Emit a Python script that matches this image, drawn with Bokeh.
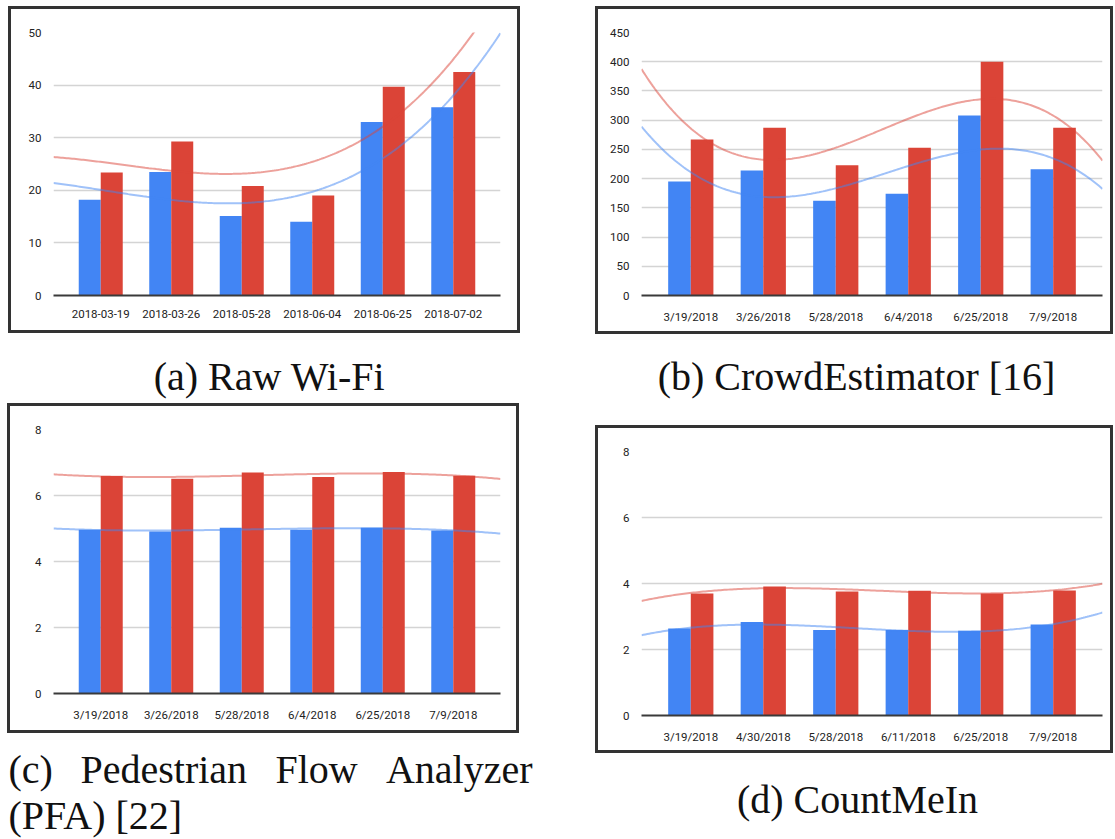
import numpy as np
from bokeh.plotting import figure
from bokeh.models import FactorRange, Range1d, FixedTicker, Spacer, ColumnDataSource
from bokeh.layouts import row, column
from bokeh.transform import dodge
from bokeh.core.properties import value
from bokeh.embed import file_html
from bokeh.resources import INLINE

# ---- data -------------------------------------------------------------
wifi_dates = ["2018-03-19", "2018-03-26", "2018-05-28", "2018-06-04", "2018-06-25", "2018-07-02"]
wifi_blue = [18.2, 23.5, 15.1, 14.0, 33.0, 35.8]
wifi_red = [23.4, 29.3, 20.8, 19.0, 39.7, 42.5]
wifi_ticks = [0, 10, 20, 30, 40, 50]

ce_dates = ["3/19/2018", "3/26/2018", "5/28/2018", "6/4/2018", "6/25/2018", "7/9/2018"]
ce_blue = [195, 214, 162, 174, 308, 216]
ce_red = [267, 287, 223, 253, 400, 287]
ce_ticks = [0, 50, 100, 150, 200, 250, 300, 350, 400, 450]

pfa_dates = ["3/19/2018", "3/26/2018", "5/28/2018", "6/4/2018", "6/25/2018", "7/9/2018"]
pfa_blue = [4.96, 4.91, 5.02, 4.96, 5.02, 4.94]
pfa_red = [6.59, 6.51, 6.70, 6.56, 6.71, 6.60]
pfa_ticks = [0, 2, 4, 6, 8]

cmi_dates = ["3/19/2018", "4/30/2018", "5/28/2018", "6/11/2018", "6/25/2018", "7/9/2018"]
cmi_blue = [2.64, 2.83, 2.59, 2.59, 2.57, 2.76]
cmi_red = [3.70, 3.91, 3.76, 3.78, 3.70, 3.79]
cmi_ticks = [0, 2, 4, 6, 8]

# ---- styling ----------------------------------------------------------
BLUE = "#4285F4"
RED = "#DB4437"
BW = 3            # panel border thickness
LABEL_FONT = "Roboto"
CAPTION_FONT = "Liberation Serif"
CAPTION_SHIFT = 14  # the text glyph sits this far below its nominal baseline


def panel(dates, blue, red, ticks, outer_w, outer_h, borders, pad):
    """Grouped bars with a cubic trend line per series, framed by a dark border."""
    left, right, top, bottom = borders
    xr = FactorRange(factors=dates, range_padding=pad, range_padding_units="absolute")
    # the canvas is offset by the border on the left/top, so the far sides get
    # two border widths of extra room
    p = figure(x_range=xr, y_range=Range1d(ticks[0], ticks[-1]),
               width=outer_w, height=outer_h, title=None,
               output_backend="svg", toolbar_location=None,
               min_border_left=left, min_border_right=right + 2 * BW,
               min_border_top=top, min_border_bottom=bottom + 2 * BW)
    p.styles = {"border": f"{BW}px solid #333333"}
    p.outline_line_color = None
    p.background_fill_color = "white"
    p.border_fill_color = "white"

    src = ColumnDataSource(dict(date=dates, blue=blue, red=red))
    bw = 0.312
    p.vbar(x=dodge("date", -bw / 2, range=xr), top="blue", width=bw, source=src,
           fill_color=BLUE, line_color=None)
    p.vbar(x=dodge("date", bw / 2, range=xr), top="red", width=bw, source=src,
           fill_color=RED, line_color=None)

    # polynomial (degree 3) trend lines across the whole plot width
    n = len(dates)
    idx = np.arange(n)
    xs = np.linspace(-0.5 - pad, n - 0.5 + pad, 240)
    for vals, col in ((red, RED), (blue, BLUE)):
        coef = np.polyfit(idx, vals, 3)
        p.line(xs + 0.5, np.polyval(coef, xs), line_color=col, line_alpha=0.5, line_width=2)

    p.xgrid.grid_line_color = None
    p.ygrid.ticker = FixedTicker(ticks=ticks)
    p.ygrid.grid_line_color = "#d4d4d4"
    p.ygrid.grid_line_width = 1.5

    p.yaxis.ticker = FixedTicker(ticks=ticks)
    p.yaxis.axis_line_color = None
    p.xaxis.axis_line_color = "#3a3a3a"
    p.xaxis.axis_line_width = 2
    for ax in (p.xaxis, p.yaxis):
        ax.major_tick_line_color = None
        ax.minor_tick_line_color = None
        ax.major_label_text_font = LABEL_FONT
        ax.major_label_text_font_size = "11.5px"
        ax.major_label_text_color = "#222222"
    p.xaxis.major_label_standoff = 8
    p.yaxis.major_label_standoff = 6
    return p


def caption(w, h, items):
    """Blank canvas holding serif caption words: (x, baseline, text, align)."""
    c = figure(width=w, height=h, x_range=Range1d(0, w), y_range=Range1d(h, 0),
               title=None, output_backend="svg", toolbar_location=None, min_border=0,
               x_axis_location=None, y_axis_location=None)
    c.grid.visible = False
    c.outline_line_color = None
    c.border_fill_color = "white"
    for x, y, txt, align in items:
        c.text(x=[x], y=[y - CAPTION_SHIFT], text=[txt], text_align=align,
               text_baseline="alphabetic", text_font=value(CAPTION_FONT),
               text_font_size="40px", text_color="#111111")
    return c


# borders are measured from the inside of the frame line
fig_a = panel(wifi_dates, wifi_blue, wifi_red, wifi_ticks, 512, 327, (42, 17, 23, 35), 0.17)
fig_b = panel(ce_dates, ce_blue, ce_red, ce_ticks, 518, 328, (43, 8, 23, 36), 0.18)
fig_c = panel(pfa_dates, pfa_blue, pfa_red, pfa_ticks, 512, 330, (43, 16, 23, 37), 0.17)
fig_d = panel(cmi_dates, cmi_blue, cmi_red, cmi_ticks, 518, 328, (43, 8, 23, 35), 0.18)

cap_a = caption(590, 70, [(269, 57, "(a) Raw Wi-Fi", "center")])
cap_b = caption(525, 91, [(266, 56, "(b) CrowdEstimator [16]", "center")])
cap_c = caption(590, 106, [(8, 50, "(c)", "left"), (80, 50, "Pedestrian", "left"),
                           (275, 50, "Flow", "left"), (532, 50, "Analyzer", "right"),
                           (8, 96, "(PFA) [22]", "left")])
cap_d = caption(525, 86, [(267, 60, "(d) CountMeIn", "center")])

left_col = column(Spacer(width=590, height=6),
                  row(Spacer(width=8, height=10), fig_a),
                  cap_a,
                  row(Spacer(width=7, height=10), fig_c),
                  cap_c, spacing=0)
right_col = column(Spacer(width=525, height=6),
                   row(Spacer(width=5, height=10), fig_b),
                   cap_b,
                   row(Spacer(width=5, height=10), fig_d),
                   cap_d, spacing=0)
page = row(left_col, right_col, spacing=0)

open("out.html", "w").write(file_html(page, INLINE))
